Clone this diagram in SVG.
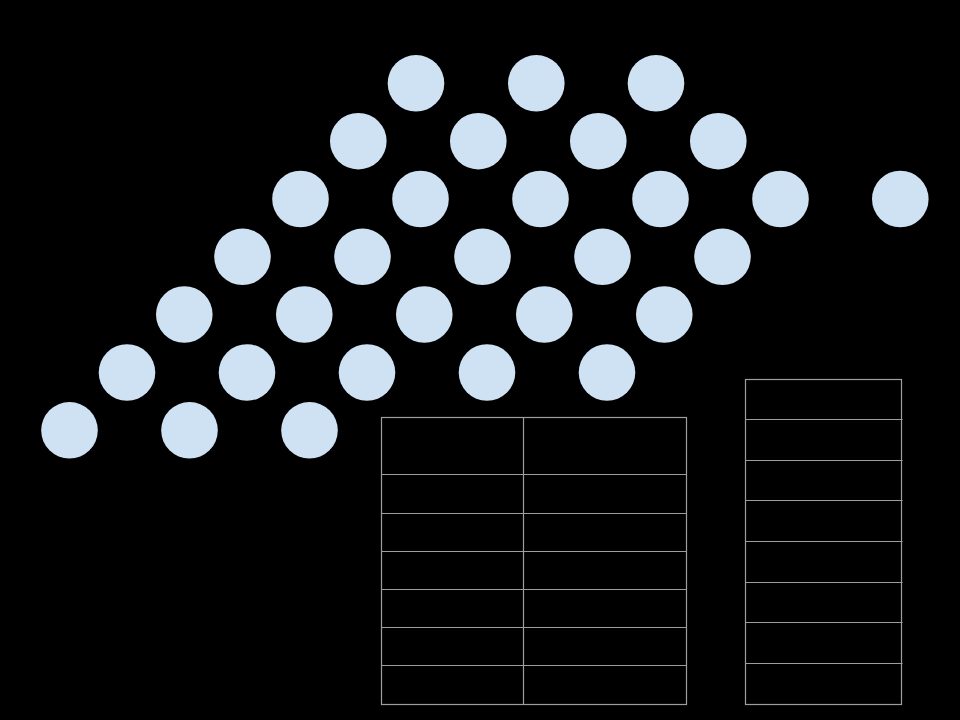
<svg xmlns="http://www.w3.org/2000/svg" width="960" height="720" viewBox="0 0 960 720">
<style>
.n{fill:#cfe2f3;stroke:none}
.t{fill:none;stroke:#9e9e9e;stroke-width:1.2}
</style>
<rect width="960" height="720" fill="#000"/>
<g id="r1">
<g id="n1_1"><circle class="n" cx="416" cy="83.3" r="28.3"/></g>
<g id="n1_2"><circle class="n" cx="536.3" cy="83.3" r="28.3"/></g>
<g id="n1_3"><circle class="n" cx="656" cy="83.3" r="28.3"/></g>
</g>
<g id="r2">
<g id="n2_1"><circle class="n" cx="358.3" cy="141.2" r="28.3"/></g>
<g id="n2_2"><circle class="n" cx="478.3" cy="141.2" r="28.3"/></g>
<g id="n2_3"><circle class="n" cx="598.3" cy="141.2" r="28.3"/></g>
<g id="n2_4"><circle class="n" cx="718.3" cy="141.2" r="28.3"/></g>
</g>
<g id="r3">
<g id="n3_1"><circle class="n" cx="300.5" cy="199" r="28.3"/></g>
<g id="n3_2"><circle class="n" cx="420.5" cy="199" r="28.3"/></g>
<g id="n3_3"><circle class="n" cx="540.5" cy="199" r="28.3"/></g>
<g id="n3_4"><circle class="n" cx="660.5" cy="199" r="28.3"/></g>
<g id="n3_5"><circle class="n" cx="780.5" cy="199" r="28.3"/></g>
<g id="n3_6"><circle class="n" cx="900.3" cy="199" r="28.3"/></g>
</g>
<g id="r4">
<g id="n4_1"><circle class="n" cx="242.5" cy="256.8" r="28.3"/></g>
<g id="n4_2"><circle class="n" cx="362.5" cy="256.8" r="28.3"/></g>
<g id="n4_3"><circle class="n" cx="482.5" cy="256.8" r="28.3"/></g>
<g id="n4_4"><circle class="n" cx="602.5" cy="256.8" r="28.3"/></g>
<g id="n4_5"><circle class="n" cx="722.5" cy="256.8" r="28.3"/></g>
</g>
<g id="r5">
<g id="n5_1"><circle class="n" cx="184.3" cy="314.5" r="28.3"/></g>
<g id="n5_2"><circle class="n" cx="304.3" cy="314.5" r="28.3"/></g>
<g id="n5_3"><circle class="n" cx="424.3" cy="314.5" r="28.3"/></g>
<g id="n5_4"><circle class="n" cx="544.3" cy="314.5" r="28.3"/></g>
<g id="n5_5"><circle class="n" cx="664.3" cy="314.5" r="28.3"/></g>
</g>
<g id="r6">
<g id="n6_1"><circle class="n" cx="127" cy="372.5" r="28.3"/></g>
<g id="n6_2"><circle class="n" cx="247" cy="372.5" r="28.3"/></g>
<g id="n6_3"><circle class="n" cx="367" cy="372.5" r="28.3"/></g>
<g id="n6_4"><circle class="n" cx="487" cy="372.5" r="28.3"/></g>
<g id="n6_5"><circle class="n" cx="607" cy="372.5" r="28.3"/></g>
</g>
<g id="r7">
<g id="n7_1"><circle class="n" cx="69.5" cy="430.3" r="28.3"/></g>
<g id="n7_2"><circle class="n" cx="189.5" cy="430.3" r="28.3"/></g>
<g id="n7_3"><circle class="n" cx="309.5" cy="430.3" r="28.3"/></g>
</g>
<g id="table1">
<rect class="t" x="381.5" y="417.5" width="305" height="287"/>
<path class="t" d="M523.5 417.5V704.5M381.5 474.5H686.5M381.5 513.5H686.5M381.5 551.5H686.5M381.5 589.5H686.5M381.5 627.5H686.5M381.5 665.5H686.5"/>
</g>
<g id="table2">
<rect class="t" x="745.5" y="379.5" width="156" height="325"/>
<path class="t" d="M745.5 419.5H902.5M745.5 460.5H902.5M745.5 500.5H902.5M745.5 541.5H902.5M745.5 582.5H902.5M745.5 622.5H902.5M745.5 663.5H902.5"/>
</g>
</svg>
